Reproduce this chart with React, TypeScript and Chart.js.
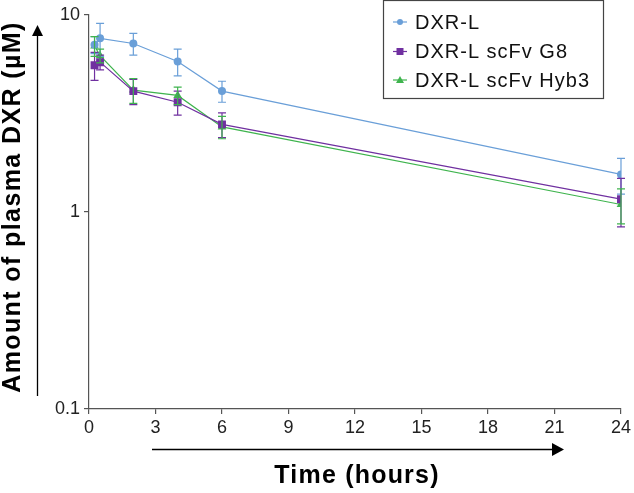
import React, { useEffect, useRef } from "react";
import { Chart, registerables } from "chart.js";

Chart.register(...registerables);

const times = [0.25, 0.5, 2, 4, 6, 24];
const seriesNames = ["DXR-L", "DXR-L scFv G8", "DXR-L scFv Hyb3"];
const dxrL = [7.05, 7.6, 7.15, 5.8, 4.1, 1.55];
const dxrLErr = [0.7, 1.45, 0.9, 0.9, 0.5, 0.32];
const g8 = [5.55, 5.75, 4.1, 3.6, 2.78, 1.16];
const g8Err = [0.9, 0.5, 0.6, 0.5, 0.4, 0.32];
const hyb3 = [6.95, 6.2, 4.15, 3.9, 2.7, 1.09];
const hyb3Err = [0.8, 0.5, 0.6, 0.4, 0.35, 0.22];
const xTicks = [0, 3, 6, 9, 12, 15, 18, 21, 24];
const yTicks = [0.1, 1, 10];
const xTitle = "Time (hours)";
const yTitle = "Amount of plasma DXR (\u00b5M)";

const colors = ["#6a9fd8", "#7030a0", "#3fb44e"];
const pointStyles = ["circle", "rect", "triangle"];
const pointRadii = [4, 5.6, 5];
const FONT = "'Liberation Sans', Arial, sans-serif";
const AXIS = "#555555";

const errorBars = {
  id: "errorBars",
  afterDatasetsDraw(chart: any) {
    const errs = [dxrLErr, g8Err, hyb3Err];
    const ctx = chart.ctx;
    const xs = chart.scales.x;
    const ys = chart.scales.y;
    ctx.save();
    chart.data.datasets.forEach((ds: any, i: number) => {
      ctx.strokeStyle = colors[i];
      ctx.lineWidth = 1.2;
      ds.data.forEach((p: any, j: number) => {
        const e = errs[i][j];
        const x = xs.getPixelForValue(p.x);
        const yTop = ys.getPixelForValue(p.y + e);
        const yBot = ys.getPixelForValue(Math.max(p.y - e, 0.01));
        ctx.beginPath();
        ctx.moveTo(x, yTop);
        ctx.lineTo(x, yBot);
        ctx.moveTo(x - 4, yTop);
        ctx.lineTo(x + 4, yTop);
        ctx.moveTo(x - 4, yBot);
        ctx.lineTo(x + 4, yBot);
        ctx.stroke();
      });
    });
    ctx.restore();
  },
};

const decorations = {
  id: "decorations",
  afterDraw(chart: any) {
    const ctx = chart.ctx;
    ctx.save();
    // Legend box
    ctx.fillStyle = "#ffffff";
    ctx.fillRect(383.5, 0.5, 220, 98);
    ctx.strokeStyle = "#444444";
    ctx.lineWidth = 1.2;
    ctx.strokeRect(383.5, 0.5, 220, 98);
    const rows = [22, 51.5, 80];
    ctx.font = "20px " + FONT;
    (ctx as any).letterSpacing = "1px";
    ctx.textBaseline = "middle";
    ctx.textAlign = "left";
    seriesNames.forEach((name, i) => {
      const y = rows[i];
      ctx.strokeStyle = colors[i];
      ctx.lineWidth = 1.2;
      ctx.beginPath();
      ctx.moveTo(393, y);
      ctx.lineTo(407, y);
      ctx.stroke();
      ctx.fillStyle = colors[i];
      ctx.beginPath();
      if (i === 0) {
        ctx.arc(400, y, 3, 0, Math.PI * 2);
      } else if (i === 1) {
        ctx.rect(396.5, y - 3.5, 7, 7);
      } else {
        ctx.moveTo(400, y - 4);
        ctx.lineTo(404, y + 3);
        ctx.lineTo(396, y + 3);
        ctx.closePath();
      }
      ctx.fill();
      ctx.fillStyle = "#111111";
      ctx.fillText(name, 415, y + 1);
    });

    // Axis titles
    ctx.fillStyle = "#000000";
    ctx.font = "bold 25px " + FONT;
    (ctx as any).letterSpacing = "1.2px";
    ctx.textAlign = "center";
    ctx.textBaseline = "alphabetic";
    ctx.fillText(xTitle, 357, 483);
    ctx.save();
    ctx.translate(20, 207);
    ctx.rotate(-Math.PI / 2);
    (ctx as any).letterSpacing = "1.4px";
    ctx.fillText(yTitle, 0, 0);
    ctx.restore();

    // Arrows
    ctx.strokeStyle = "#000000";
    ctx.fillStyle = "#000000";
    ctx.lineWidth = 1.3;
    ctx.beginPath();
    ctx.moveTo(37.5, 396);
    ctx.lineTo(37.5, 34);
    ctx.stroke();
    ctx.beginPath();
    ctx.moveTo(37.5, 25);
    ctx.lineTo(43, 36);
    ctx.lineTo(32, 36);
    ctx.closePath();
    ctx.fill();

    ctx.beginPath();
    ctx.moveTo(152, 449.5);
    ctx.lineTo(554, 449.5);
    ctx.stroke();
    ctx.beginPath();
    ctx.moveTo(564, 449.5);
    ctx.lineTo(552, 443);
    ctx.lineTo(552, 456);
    ctx.closePath();
    ctx.fill();
    ctx.restore();
  },
};

export default function App() {
  const ref = useRef<HTMLCanvasElement | null>(null);
  useEffect(() => {
    document.body.style.margin = "0";
    const mk = (vals: number[]) => vals.map((v, i) => ({ x: times[i], y: v }));
    const datasets = [dxrL, g8, hyb3].map((vals, i) => ({
      label: seriesNames[i],
      data: mk(vals),
      borderColor: colors[i],
      backgroundColor: colors[i],
      borderWidth: 1.2,
      pointStyle: pointStyles[i],
      pointRadius: pointRadii[i],
      pointBorderWidth: 0,
      tension: 0,
      fill: false,
    }));
    const chart = new Chart(ref.current as HTMLCanvasElement, {
      type: "line",
      data: { datasets },
      options: {
        animation: false,
        responsive: true,
        maintainAspectRatio: false,
        layout: { padding: { top: 12, right: 12, left: 0, bottom: 0 } },
        plugins: { legend: { display: false }, tooltip: { enabled: false } },
        scales: {
          x: {
            type: "linear",
            min: 0,
            max: 24,
            afterBuildTicks: (s: any) => {
              s.ticks = xTicks.map((v) => ({ value: v }));
            },
            afterFit: (s: any) => {
              s.height = 84;
            },
            ticks: {
              font: { family: FONT, size: 18 },
              color: "#222222",
              padding: 3,
              maxRotation: 0,
              callback: (v: any) => String(v),
            },
            grid: { drawOnChartArea: false, drawTicks: true, tickLength: 5, color: AXIS, lineWidth: 1.2 },
            border: { color: AXIS, width: 1.2 },
          },
          y: {
            type: "logarithmic",
            min: 0.1,
            max: 10,
            afterBuildTicks: (s: any) => {
              s.ticks = yTicks.map((v) => ({ value: v }));
            },
            afterFit: (s: any) => {
              s.width = 89;
            },
            ticks: {
              font: { family: FONT, size: 18 },
              color: "#222222",
              padding: 4,
              callback: (v: any) => String(v),
            },
            grid: { drawOnChartArea: false, drawTicks: true, tickLength: 5, color: AXIS, lineWidth: 1.2 },
            border: { color: AXIS, width: 1.2 },
          },
        },
      },
      plugins: [errorBars, decorations],
    } as any);
    return () => chart.destroy();
  }, []);
  return (
    <div style={{ width: 634, height: 493, position: "relative" }}>
      <canvas ref={ref} />
    </div>
  );
}
